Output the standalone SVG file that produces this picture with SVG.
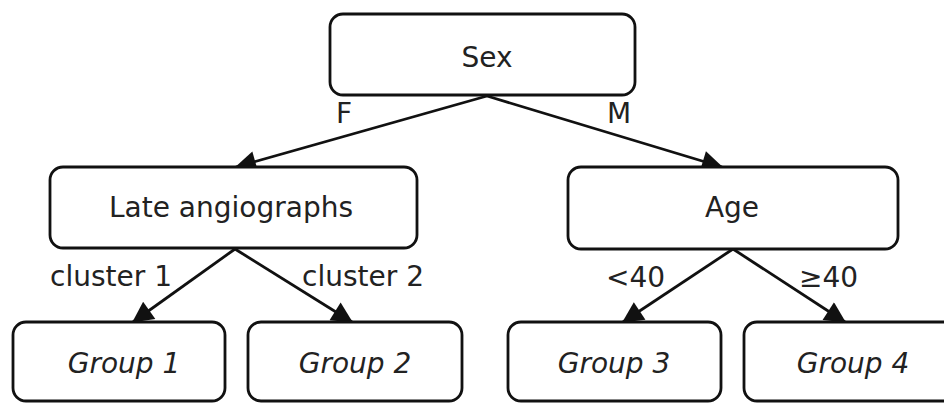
<svg xmlns="http://www.w3.org/2000/svg" width="944" height="403" viewBox="0 0 944 403">
  <style>
    .box { fill: #ffffff; stroke: #111111; stroke-width: 2.8; }
    .lbl { font-family: "DejaVu Sans", Verdana, sans-serif; font-size: 28px; fill: #222222; }
    .mid { text-anchor: middle; }
    .it { font-style: italic; }
    .edge { stroke: #111111; stroke-width: 2.8; fill: none; marker-end: url(#arrow); }
  </style>
  <defs>
    <marker id="arrow" viewBox="0 0 10 10" refX="9.5" refY="5" markerWidth="8.5" markerHeight="7.5" orient="auto" markerUnits="strokeWidth">
      <path d="M0,0 L10,5 L0,10 z" fill="#111111"/>
    </marker>
  </defs>
  <rect width="944" height="403" fill="#ffffff"/>

  <!-- connectors -->
  <g id="edges">
    <line class="edge" x1="487" y1="96" x2="236" y2="167"/>
    <line class="edge" x1="487" y1="96" x2="722" y2="167"/>
    <line class="edge" x1="235" y1="249" x2="133" y2="322"/>
    <line class="edge" x1="235" y1="249" x2="352" y2="322"/>
    <line class="edge" x1="733" y1="249" x2="623" y2="322"/>
    <line class="edge" x1="733" y1="249" x2="845" y2="322"/>
    <text class="lbl" x="336" y="123">F</text>
    <text class="lbl" x="607" y="123">M</text>
    <text class="lbl" x="50" y="286">cluster 1</text>
    <text class="lbl" x="302" y="286">cluster 2</text>
    <text class="lbl" x="606" y="287">&lt;40</text>
    <text class="lbl" x="799" y="287">≥40</text>
  </g>

  <g id="sex">
    <rect class="box" x="330" y="14" width="305" height="81" rx="13"/>
    <text class="lbl mid" x="487" y="67">Sex</text>
  </g>
  <g id="late-angiographs">
    <rect class="box" x="50" y="167" width="367" height="81" rx="13"/>
    <text class="lbl mid" x="231" y="217">Late angiographs</text>
  </g>
  <g id="age">
    <rect class="box" x="568" y="167" width="330" height="82" rx="13"/>
    <text class="lbl mid" x="732" y="217">Age</text>
  </g>
  <g id="group1">
    <rect class="box" x="13" y="322" width="212" height="79" rx="13"/>
    <text class="lbl mid it" x="124" y="373">Group 1</text>
  </g>
  <g id="group2">
    <rect class="box" x="248" y="322" width="214" height="79" rx="13"/>
    <text class="lbl mid it" x="355" y="373">Group 2</text>
  </g>
  <g id="group3">
    <rect class="box" x="508" y="322" width="213" height="79" rx="13"/>
    <text class="lbl mid it" x="614" y="373">Group 3</text>
  </g>
  <g id="group4">
    <rect class="box" x="744" y="322" width="214" height="79" rx="13"/>
    <text class="lbl mid it" x="853" y="373">Group 4</text>
  </g>
</svg>
